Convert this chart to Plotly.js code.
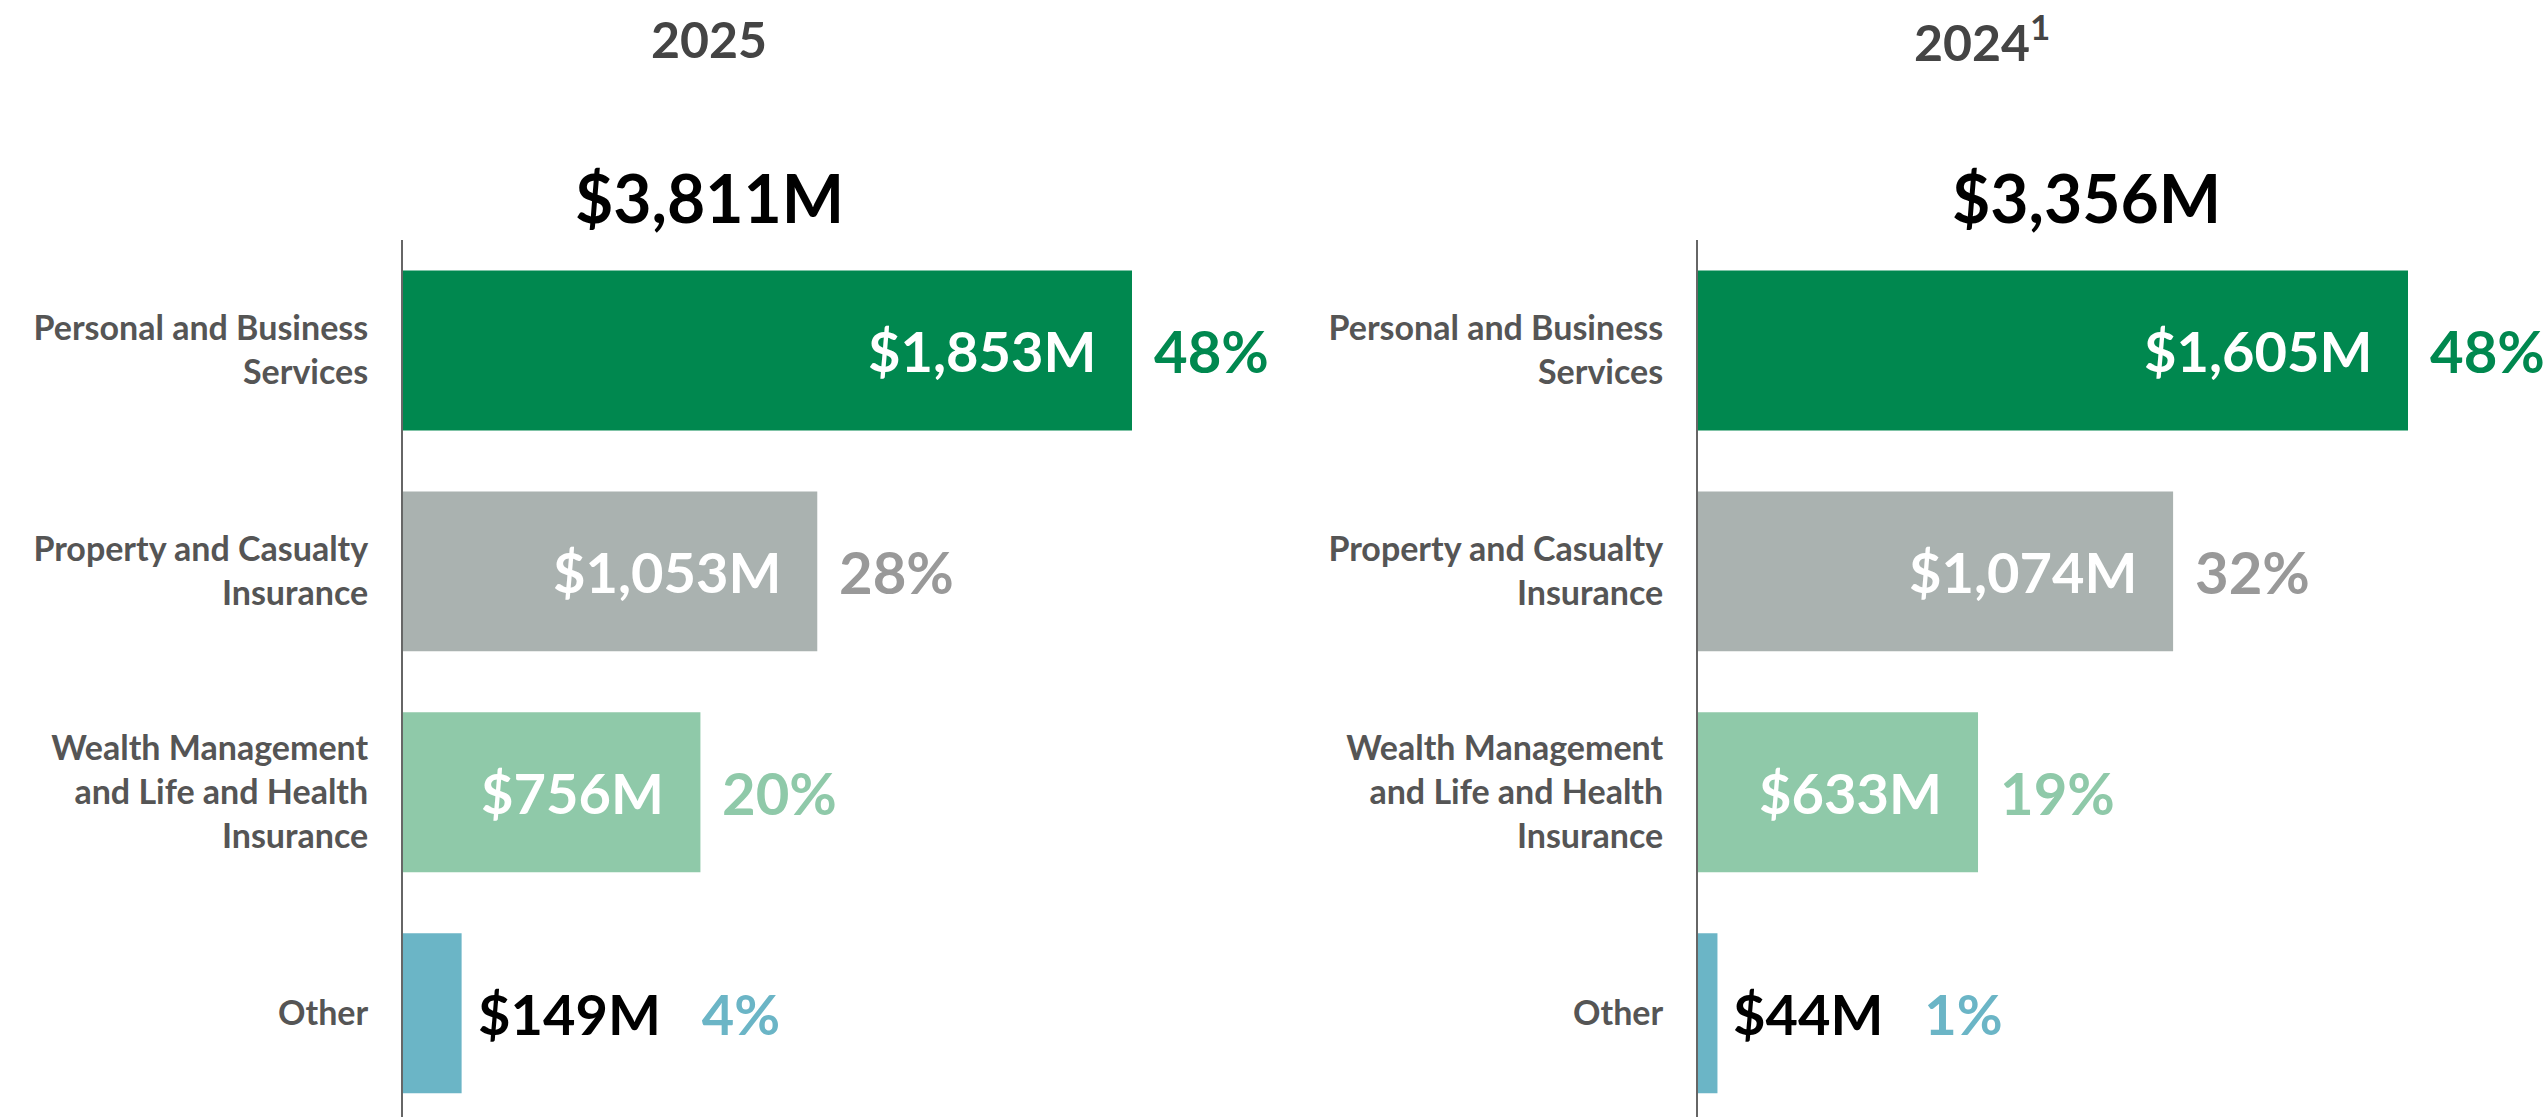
<!DOCTYPE html>
<html>
<head>
<meta charset="utf-8">
<script src="https://cdn.plot.ly/plotly-3.0.1.min.js"></script>
<style>html,body{margin:0;padding:0;background:#fff;}#chart{width:2546px;height:1117px;}</style>
</head>
<body>
<div id="chart"></div>
<script>
// ---- data ----
const categories = ['Personal and Business<br>Services', 'Property and Casualty<br>Insurance', 'Wealth Management<br>and Life and Health<br>Insurance', 'Other'];
const values2025 = [1853, 1053, 756, 149];
const pct2025 = [48, 28, 20, 4];
const values2024 = [1605, 1074, 633, 44];
const pct2024 = [48, 32, 19, 1];
const panelTitles = ['2025', '2024<sup>1</sup>'];
const totals = [3811, 3356];

// ---- styles ----
const barColors = ['#00884F', '#AAB2B0', '#8FC9A9', '#6BB5C6'];
const pctColors = ['#00884F', '#999999', '#8FC9A9', '#6BB5C6'];
const FONT = 'Lato, "Open Sans", sans-serif';
const fmt = v => '$' + v.toLocaleString('en-US') + 'M';
const catIdx = categories.map((c, i) => i);

const traces = [
  {type: 'bar', orientation: 'h', x: values2025, y: catIdx, xaxis: 'x', yaxis: 'y',
   marker: {color: barColors, line: {width: 0}}, hoverinfo: 'none', showlegend: false},
  {type: 'bar', orientation: 'h', x: values2024, y: catIdx, xaxis: 'x2', yaxis: 'y2',
   marker: {color: barColors, line: {width: 0}}, hoverinfo: 'none', showlegend: false}
];

const annotations = [];
function addLabels(values, pcts, xref, yref) {
  values.forEach((v, i) => {
    const isSmall = i === categories.length - 1;
    if (!isSmall) {
      annotations.push({xref, yref, x: v, y: i, xanchor: 'right', yanchor: 'middle', xshift: -34,
        text: fmt(v), showarrow: false, font: {family: FONT, size: 56, color: '#ffffff', weight: 700}});
      annotations.push({xref, yref, x: v, y: i, xanchor: 'left', yanchor: 'middle', xshift: 20,
        text: pcts[i] + '%', showarrow: false, font: {family: FONT, size: 58, color: pctColors[i], weight: 700}});
    } else {
      annotations.push({xref, yref, x: v, y: i, xanchor: 'left', yanchor: 'middle', xshift: 14,
        text: fmt(v) + '\u00A0\u00A0\u00A0<span style="color:' + pctColors[i] + '">' + pcts[i] + '%</span>',
        showarrow: false, font: {family: FONT, size: 56, color: '#000000', weight: 700}});
    }
  });
}
addLabels(values2025, pct2025, 'x', 'y');
addLabels(values2024, pct2024, 'x2', 'y2');

// panel headers (paper coords)
const H = 1117, TOP = 240, PH = H - TOP;
const py = px => (H - px) / PH;
annotations.push({xref: 'paper', yref: 'paper', x: 709 / 2546, y: py(39), xanchor: 'center', yanchor: 'middle',
  text: panelTitles[0], showarrow: false, font: {family: FONT, size: 50, color: '#444444', weight: 700}});
annotations.push({xref: 'paper', yref: 'paper', x: 1982 / 2546, y: py(39), xanchor: 'center', yanchor: 'middle',
  text: panelTitles[1], showarrow: false, font: {family: FONT, size: 50, color: '#444444', weight: 700}});
annotations.push({xref: 'paper', yref: 'paper', x: 709 / 2546, y: py(198), xanchor: 'center', yanchor: 'middle',
  text: fmt(totals[0]), showarrow: false, font: {family: FONT, size: 66, color: '#000000', weight: 700}});
annotations.push({xref: 'paper', yref: 'paper', x: 2086 / 2546, y: py(198), xanchor: 'center', yanchor: 'middle',
  text: fmt(totals[1]), showarrow: false, font: {family: FONT, size: 66, color: '#000000', weight: 700}});

const yaxisBase = {
  tickmode: 'array', tickvals: catIdx, ticktext: categories,
  range: [3.47, -0.5], showline: true, linecolor: '#666666', linewidth: 2,
  ticks: '', ticklabelstandoff: 26, showgrid: false, zeroline: false, fixedrange: true,
  tickfont: {family: FONT, size: 34, color: '#555555', weight: 700}
};
const xaxisBase = {showgrid: false, zeroline: false, showticklabels: false, ticks: '', showline: false, fixedrange: true};

const layout = {
  width: 2546, height: 1117,
  margin: {l: 0, r: 0, t: TOP, b: 0, pad: 0},
  paper_bgcolor: '#ffffff', plot_bgcolor: '#ffffff',
  bargap: 0.276,
  xaxis: Object.assign({}, xaxisBase, {domain: [403 / 2546, 0.47], range: [0, (0.47 * 2546 - 403) / (729 / 1853)], anchor: 'y'}),
  yaxis: Object.assign({}, yaxisBase, {anchor: 'x'}),
  xaxis2: Object.assign({}, xaxisBase, {domain: [1698 / 2546, 0.98], range: [0, (0.98 * 2546 - 1698) / (710 / 1605)], anchor: 'y2'}),
  yaxis2: Object.assign({}, yaxisBase, {anchor: 'x2'}),
  annotations: annotations,
  showlegend: false
};

Plotly.newPlot('chart', traces, layout, {displayModeBar: false, staticPlot: true});
</script>
</body>
</html>
